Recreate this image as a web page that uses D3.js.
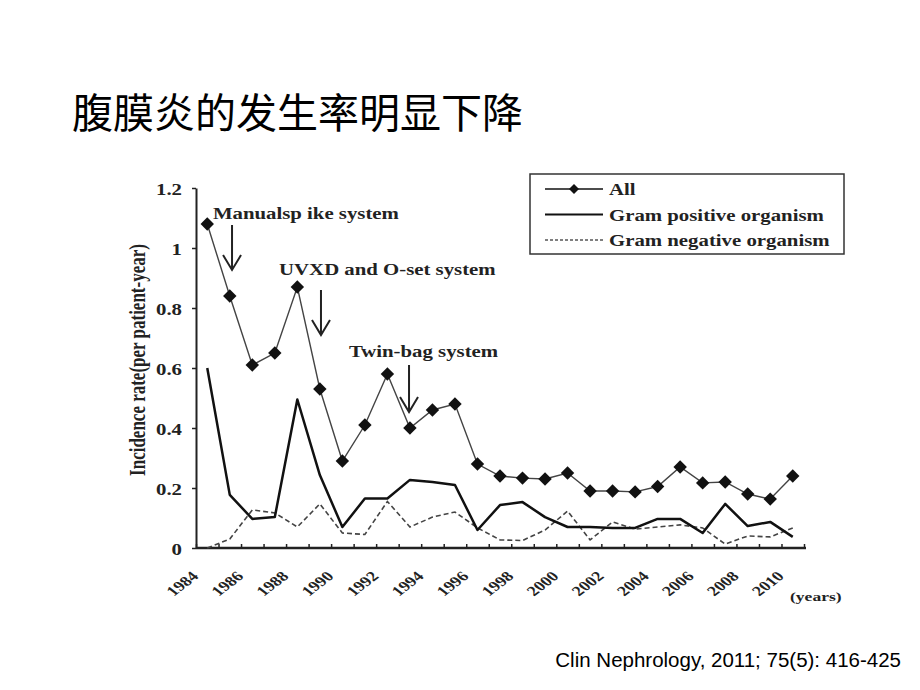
<!DOCTYPE html>
<html>
<head>
<meta charset="utf-8">
<script src="https://cdn.jsdelivr.net/npm/d3@7/dist/d3.min.js"></script>
<style>
  body { margin: 0; background: #fff; }
  svg { display: block; }
  .serif { font-family: "Liberation Serif", "Times New Roman", serif; font-weight: bold; fill: #222; }
</style>
</head>
<body>
<svg id="chart" width="920" height="690"></svg>
<script>
// years 1984 - 2010, incidence per patient-year
var years = [1984, 1985, 1986, 1987, 1988, 1989, 1990, 1991, 1992, 1993, 1994, 1995, 1996, 1997,
  1998, 1999, 2000, 2001, 2002, 2003, 2004, 2005, 2006, 2007, 2008, 2009, 2010];
var allRate = [1.08, 0.84, 0.61, 0.65, 0.87, 0.53, 0.29, 0.41, 0.58, 0.40, 0.46, 0.48, 0.28, 0.24,
  0.233, 0.23, 0.25, 0.19, 0.19, 0.187, 0.205, 0.27, 0.217, 0.22, 0.18, 0.163, 0.24];
var gramPos = [0.60, 0.177, 0.097, 0.103, 0.495, 0.243, 0.07, 0.165, 0.165, 0.227, 0.22, 0.21, 0.06, 0.143,
  0.153, 0.103, 0.07, 0.07, 0.067, 0.067, 0.097, 0.097, 0.05, 0.147, 0.073, 0.087, 0.037];
var gramNeg = [0.0, 0.03, 0.127, 0.117, 0.07, 0.147, 0.05, 0.045, 0.155, 0.07, 0.103, 0.12, 0.067, 0.027,
  0.025, 0.06, 0.123, 0.027, 0.087, 0.063, 0.07, 0.077, 0.067, 0.013, 0.04, 0.037, 0.067];
var yTicks = [0, 0.2, 0.4, 0.6, 0.8, 1, 1.2];
var yearLabels = [1984, 1986, 1988, 1990, 1992, 1994, 1996, 1998, 2000, 2002, 2004, 2006, 2008, 2010];
var legendNames = ['All', 'Gram positive organism', 'Gram negative organism'];
var notes = [
  { text: 'Manualsp ike system', tx: 1984.75, ty: 1.097, ax: 1985.6, y0: 1.077, y1: 0.927 },
  { text: 'UVXD and O-set system', tx: 1987.69, ty: 0.91, ax: 1989.55, y0: 0.86, y1: 0.71 },
  { text: 'Twin-bag system', tx: 1990.79, ty: 0.637, ax: 1993.46, y0: 0.61, y1: 0.453 }
];

(function () {
  'use strict';

  var svg = d3.select('#chart'),
    sx = 1.3, // the source picture is stretched sideways
    x = d3.scaleLinear().domain([1984, 2011]).range([196, 804]),
    y = d3.scaleLinear().domain([0, 1.2]).range([548, 188]),
    ink = '#222';

  function mid(d, i) {
    return x(years[i] + 0.5);
  }

  // title and source
  svg.append('text')
    .attr('x', 72).attr('y', 128)
    .style('font-family', '"Noto Sans CJK SC", sans-serif')
    .style('font-size', '41px')
    .style('fill', '#000')
    .text('腹膜炎的发生率明显下降');

  svg.append('text')
    .attr('x', 901).attr('y', 667)
    .attr('text-anchor', 'end')
    .style('font-family', '"Liberation Sans", Arial, sans-serif')
    .style('font-size', '20.5px')
    .style('fill', '#000')
    .text('Clin Nephrology, 2011; 75(5): 416-425');

  // y axis
  var yAxis = svg.append('g')
    .attr('transform', 'translate(' + x(1984) + ',0)')
    .call(d3.axisLeft(y).tickValues(yTicks).tickSize(4).tickSizeOuter(0).tickPadding(12)
      .tickFormat(function (d) { return d === 0 || d === 1 ? String(d) : d.toFixed(1); }));
  yAxis.select('.domain').attr('stroke', ink).attr('stroke-width', 2);
  yAxis.selectAll('.tick line').attr('stroke', ink).attr('stroke-width', 1.5);
  yAxis.selectAll('.tick text')
    .attr('class', 'serif')
    .style('font-size', '16px')
    .attr('x', null).attr('dy', null)
    .attr('transform', function () {
      return 'translate(-14,6) scale(' + sx + ',1)';
    });

  // x axis, ticks between years
  var xAxis = svg.append('g')
    .attr('transform', 'translate(0,' + y(0) + ')')
    .call(d3.axisBottom(x).tickValues(years.concat([2011])).tickSizeInner(-4).tickSizeOuter(0)
      .tickFormat(function (d) { return yearLabels.indexOf(d) >= 0 ? String(d) : ''; }));
  xAxis.select('.domain').attr('stroke', ink).attr('stroke-width', 2.5)
    .attr('d', 'M' + x(1984) + ',0H' + (x(2011) + 2));
  xAxis.selectAll('.tick line').attr('stroke', ink).attr('stroke-width', 1.5);
  xAxis.selectAll('.tick text')
    .attr('class', 'serif')
    .style('font-size', '14px')
    .attr('text-anchor', 'end')
    .attr('y', null).attr('dy', null)
    .attr('transform', 'translate(3,29) scale(' + sx + ',1) rotate(-45)');

  svg.append('text')
    .attr('class', 'serif')
    .style('font-size', '13.5px')
    .attr('transform', 'translate(790,601) scale(' + sx + ',1)')
    .text('(years)');

  svg.append('text')
    .attr('class', 'serif')
    .style('font-size', '17px')
    .attr('text-anchor', 'middle')
    .attr('transform', 'translate(145,360) scale(' + sx + ',1) rotate(-90)')
    .text('Incidence rate(per patient-year)');

  // series
  var line = d3.line().x(mid).y(function (d) { return y(d); });

  svg.append('path').datum(gramNeg)
    .attr('d', line)
    .attr('fill', 'none')
    .attr('stroke', '#444')
    .attr('stroke-width', 1.6)
    .attr('stroke-dasharray', '5,3');

  svg.append('path').datum(gramPos)
    .attr('d', line)
    .attr('fill', 'none')
    .attr('stroke', '#111')
    .attr('stroke-width', 2.5)
    .attr('stroke-linejoin', 'round');

  svg.append('path').datum(allRate)
    .attr('d', line)
    .attr('fill', 'none')
    .attr('stroke', '#444')
    .attr('stroke-width', 1.4);

  var diamond = d3.symbol().type(d3.symbolSquare).size(90);
  svg.selectAll('path.pt').data(allRate).enter()
    .append('path')
    .attr('class', 'pt')
    .attr('d', diamond)
    .attr('fill', '#111')
    .attr('transform', function (d, i) {
      return 'translate(' + mid(d, i) + ',' + y(d) + ') rotate(45)';
    });

  // annotations with arrows
  svg.selectAll('text.note').data(notes).enter()
    .append('text')
    .attr('class', 'serif note')
    .style('font-size', '16px')
    .attr('transform', function (d) {
      return 'translate(' + x(d.tx) + ',' + y(d.ty) + ') scale(' + sx + ',1)';
    })
    .text(function (d) { return d.text; });

  svg.selectAll('path.arrow').data(notes).enter()
    .append('path')
    .attr('class', 'arrow')
    .attr('fill', 'none')
    .attr('stroke', ink)
    .attr('stroke-width', 2)
    .attr('d', function (d) {
      var ax = x(d.ax), top = y(d.y0), tip = y(d.y1);
      return 'M' + ax + ',' + top + 'V' + tip +
        'M' + (ax - 9) + ',' + (tip - 15) + 'L' + ax + ',' + tip + 'L' + (ax + 9) + ',' + (tip - 15);
    });

  // legend
  var lg = svg.append('g').attr('transform', 'translate(530,174)');
  lg.append('rect')
    .attr('width', 314).attr('height', 80)
    .attr('fill', '#fff')
    .attr('stroke', '#333')
    .attr('stroke-width', 1.5);

  var row = lg.selectAll('g.row').data(legendNames).enter()
    .append('g')
    .attr('class', 'row')
    .attr('transform', function (d, i) { return 'translate(0,' + (15 + i * 25.5) + ')'; });

  row.append('line')
    .attr('x1', 15).attr('x2', 73)
    .attr('stroke', function (d, i) { return i === 2 ? '#555' : '#111'; })
    .attr('stroke-width', function (d, i) { return i === 1 ? 2.2 : 1.5; })
    .attr('stroke-dasharray', function (d, i) { return i === 2 ? '3,2' : null; });

  row.filter(function (d, i) { return i === 0; })
    .append('path')
    .attr('d', d3.symbol().type(d3.symbolSquare).size(50))
    .attr('fill', '#111')
    .attr('transform', 'translate(44,0) rotate(45)');

  row.append('text')
    .attr('class', 'serif')
    .style('font-size', '16px')
    .attr('transform', 'translate(79,6) scale(' + sx + ',1)')
    .text(function (d) { return d; });
})();
</script>
</body>
</html>
